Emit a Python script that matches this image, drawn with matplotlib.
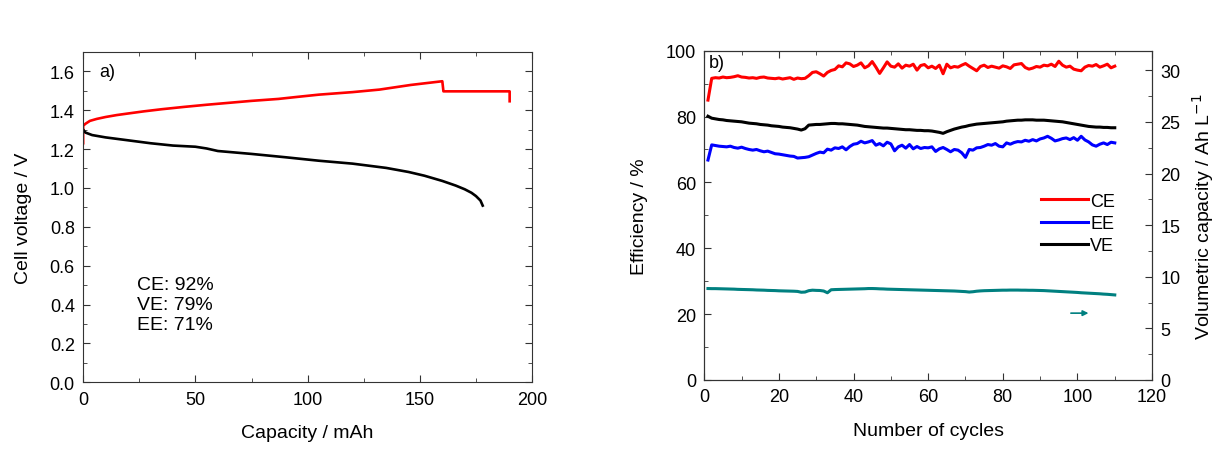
import matplotlib
matplotlib.use('Agg')
import matplotlib.pyplot as plt
from matplotlib.ticker import MultipleLocator, FormatStrFormatter
import numpy as np

plt.rcParams['font.family'] = ['Liberation Sans', 'DejaVu Sans']

# panel a) charge / discharge curves
charge_cap = [0, 0, 1, 3, 6, 10, 15, 20, 27, 35, 45, 55, 65, 75, 87, 95,
              105, 120, 132, 146, 160, 160.5, 175, 190, 190]
charge_v = [1.23, 1.32, 1.33, 1.345, 1.355, 1.365, 1.375, 1.383, 1.394, 1.405,
            1.417, 1.428, 1.438, 1.448, 1.458, 1.468, 1.480, 1.493, 1.506,
            1.530, 1.549, 1.497, 1.497, 1.497, 1.446]
discharge_cap = [0, 1, 4, 10, 20, 30, 40, 50, 55, 60, 75, 90, 105, 120, 135,
                 145, 152, 160, 166, 170, 173, 175, 177, 178]
discharge_v = [1.30, 1.285, 1.272, 1.26, 1.245, 1.23, 1.218, 1.212, 1.203,
               1.19, 1.175, 1.158, 1.14, 1.125, 1.103, 1.082, 1.063, 1.036,
               1.012, 0.993, 0.975, 0.958, 0.935, 0.909]

# panel b) cycling data
cycles = np.arange(1, 111)
ce = [85.0, 91.6, 91.8, 91.7, 92.0, 91.8, 91.9, 92.1, 92.4, 92.0,
      91.9, 91.7, 91.8, 91.6, 91.9, 92.0, 91.7, 91.6, 91.5, 91.7,
      91.4, 91.6, 91.8, 91.3, 91.7, 91.5, 91.6, 92.4, 93.4, 93.6,
      93.0, 92.3, 93.4, 94.0, 94.3, 95.4, 95.1, 96.3, 96.0, 95.2,
      95.6, 96.3, 94.8, 95.4, 96.7, 95.0, 93.1, 94.8, 96.6, 95.3,
      95.0, 96.0, 94.7, 95.6, 95.3, 95.9, 94.1, 95.5, 95.8, 94.8,
      95.3, 94.6, 95.6, 93.0, 95.9, 94.8, 95.2, 95.0, 95.6, 96.1,
      95.3, 94.6, 93.9, 95.2, 95.6, 94.9, 95.3, 95.0, 94.7, 95.4,
      95.1, 94.6, 95.7, 95.9, 96.1, 94.9, 94.4, 94.7, 95.2, 95.0,
      95.6, 95.4, 95.9, 95.2, 96.8, 95.6, 95.0, 95.3, 94.4, 94.1,
      93.9, 95.0, 95.5, 95.3, 95.8, 95.0, 95.4, 95.9, 94.8, 95.3]
ee = [66.8, 71.4, 71.2, 71.0, 70.9, 70.8, 71.0, 70.6, 70.4, 70.7,
      70.3, 70.0, 69.8, 70.0, 69.6, 69.3, 69.5, 69.1, 68.7, 68.6,
      68.4, 68.2, 68.0, 67.9, 67.4, 67.5, 67.6, 67.8, 68.3, 68.8,
      69.2, 69.0, 70.1, 69.8, 70.5, 70.3, 70.8, 69.9, 70.9, 71.6,
      71.8, 72.5, 72.0, 72.3, 72.7, 71.3, 71.8, 71.1, 72.2, 71.7,
      69.6, 70.8, 71.3, 70.4, 71.5, 70.2, 70.9, 70.3, 70.6, 70.5,
      70.8, 69.4, 70.2, 70.6, 70.0, 69.3, 70.0, 69.8, 69.0, 67.6,
      70.0, 69.8, 70.5, 70.6, 71.0, 71.5, 71.3, 71.8, 71.0, 70.8,
      72.0, 71.6, 72.1, 72.4, 72.3, 72.8, 72.5, 73.0, 72.6, 73.2,
      73.5, 74.0, 73.4, 72.6, 72.9, 73.3, 73.5, 73.0, 73.6, 72.8,
      74.0, 72.9, 72.3, 71.4, 71.0, 71.6, 72.0, 71.5, 72.2, 72.0]
ve = [80.1, 79.5, 79.3, 79.1, 79.0, 78.8, 78.7, 78.6, 78.5, 78.4,
      78.2, 78.0, 77.9, 77.8, 77.6, 77.5, 77.4, 77.2, 77.1, 77.0,
      76.8, 76.7, 76.6, 76.4, 76.2, 75.9, 76.3, 77.4, 77.5, 77.6,
      77.6, 77.7, 77.8, 77.9, 77.9, 77.8, 77.8, 77.7, 77.6, 77.5,
      77.4, 77.2, 77.0, 76.9, 76.8, 76.7, 76.6, 76.5, 76.5, 76.4,
      76.3, 76.2, 76.1, 76.0, 76.0, 75.9, 75.8, 75.8, 75.7, 75.7,
      75.6, 75.4, 75.2, 74.9, 75.4, 75.8, 76.2, 76.5, 76.8, 77.0,
      77.3, 77.5, 77.7, 77.8, 77.9, 78.0, 78.1, 78.2, 78.3, 78.4,
      78.6, 78.7, 78.8, 78.9, 78.9, 79.0, 79.0, 79.0, 78.9, 78.9,
      78.9, 78.8, 78.7, 78.6, 78.5, 78.4, 78.2, 78.0, 77.8, 77.6,
      77.4, 77.2, 77.0, 76.9, 76.8, 76.8, 76.7, 76.7, 76.6, 76.6]
vol_cap = [8.86, 8.85, 8.85, 8.84, 8.83, 8.82, 8.81, 8.80, 8.78, 8.77,
           8.76, 8.75, 8.74, 8.72, 8.71, 8.70, 8.68, 8.67, 8.66, 8.64,
           8.63, 8.62, 8.61, 8.60, 8.58, 8.50, 8.52, 8.65, 8.70, 8.68,
           8.67, 8.62, 8.45, 8.74, 8.76, 8.77, 8.78, 8.79, 8.80, 8.81,
           8.82, 8.83, 8.84, 8.86, 8.86, 8.85, 8.83, 8.82, 8.80, 8.79,
           8.78, 8.77, 8.76, 8.75, 8.74, 8.73, 8.72, 8.71, 8.70, 8.69,
           8.68, 8.67, 8.66, 8.65, 8.64, 8.63, 8.62, 8.60, 8.58, 8.56,
           8.52, 8.55, 8.60, 8.63, 8.65, 8.66, 8.67, 8.68, 8.69, 8.70,
           8.70, 8.71, 8.71, 8.71, 8.70, 8.70, 8.69, 8.69, 8.68, 8.67,
           8.66, 8.64, 8.62, 8.60, 8.58, 8.56, 8.54, 8.52, 8.50, 8.48,
           8.45, 8.43, 8.41, 8.39, 8.37, 8.35, 8.32, 8.30, 8.27, 8.24]

teal = '#008080'
fs_tick = 13
fs_label = 14

fig = plt.figure(figsize=(12.14, 4.64), dpi=100)

# ---- panel a)
ax1 = fig.add_axes([0.0685, 0.174, 0.3698, 0.712])
ax1.plot(charge_cap, charge_v, color='red', lw=1.9)
ax1.plot(discharge_cap, discharge_v, color='black', lw=1.9)
ax1.set_xlim(0, 200)
ax1.set_ylim(0, 1.7)
ax1.xaxis.set_major_locator(MultipleLocator(50))
ax1.xaxis.set_minor_locator(MultipleLocator(25))
ax1.yaxis.set_major_locator(MultipleLocator(0.2))
ax1.yaxis.set_minor_locator(MultipleLocator(0.1))
ax1.yaxis.set_major_formatter(FormatStrFormatter('%.1f'))
ax1.tick_params(which='both', direction='in', top=True, right=True,
                labelsize=fs_tick, color='#333333', pad=6)
ax1.tick_params(which='major', length=5)
ax1.tick_params(which='minor', length=3)
ax1.set_xlabel('Capacity / mAh', fontsize=fs_label, labelpad=12)
ax1.set_ylabel('Cell voltage / V', fontsize=fs_label, labelpad=13)
ax1.text(0.035, 0.965, 'a)', transform=ax1.transAxes, fontsize=fs_tick,
         va='top', ha='left')
ax1.text(24, 0.40, 'CE: 92%\nVE: 79%\nEE: 71%', fontsize=fs_label,
         va='center', ha='left', linespacing=1.25)

# ---- panel b)
ax2 = fig.add_axes([0.5801, 0.1789, 0.3689, 0.7097])
ax2.plot(cycles, ce, color='red', lw=2.2, label='CE')
ax2.plot(cycles, ee, color='blue', lw=2.2, label='EE')
ax2.plot(cycles, ve, color='black', lw=2.2, label='VE')
ax2.set_xlim(0, 120)
ax2.set_ylim(0, 100)
ax2.xaxis.set_major_locator(MultipleLocator(20))
ax2.xaxis.set_minor_locator(MultipleLocator(10))
ax2.yaxis.set_major_locator(MultipleLocator(20))
ax2.yaxis.set_minor_locator(MultipleLocator(10))
ax2.tick_params(which='both', direction='in', top=True, right=False,
                labelsize=fs_tick, color='#333333', pad=6)
ax2.tick_params(which='major', length=5)
ax2.tick_params(which='minor', length=3)
ax2.set_xlabel('Number of cycles', fontsize=fs_label, labelpad=12)
ax2.set_ylabel('Efficiency / %', fontsize=fs_label, labelpad=13)
ax2.text(0.011, 0.99, 'b)', transform=ax2.transAxes, fontsize=fs_tick,
         va='top', ha='left')
ax2.legend(loc='center left', bbox_to_anchor=(0.735, 0.475), frameon=False,
           fontsize=fs_tick, handlelength=2.6, handletextpad=0.15,
           labelspacing=0.3, borderaxespad=0)
ax2.annotate('', xy=(103.7, 20.3), xytext=(97.5, 20.3),
             arrowprops=dict(arrowstyle='-|>', color=teal, lw=1.2,
                             mutation_scale=8))

ax3 = ax2.twinx()
ax3.plot(cycles, vol_cap, color=teal, lw=2.2)
ax3.set_ylim(0, 31.9)
ax3.yaxis.set_major_locator(MultipleLocator(5))
ax3.yaxis.set_minor_locator(MultipleLocator(2.5))
ax3.tick_params(which='both', direction='in', labelsize=fs_tick,
                color='#333333', pad=6)
ax3.tick_params(which='major', length=5)
ax3.tick_params(which='minor', length=3)
ax3.set_ylabel('Volumetric capacity / Ah L$^{-1}$', fontsize=fs_label,
               labelpad=7)

for a in (ax1, ax2, ax3):
    for s in a.spines.values():
        s.set_color('#333333')

fig.savefig('out.png', dpi=100)
